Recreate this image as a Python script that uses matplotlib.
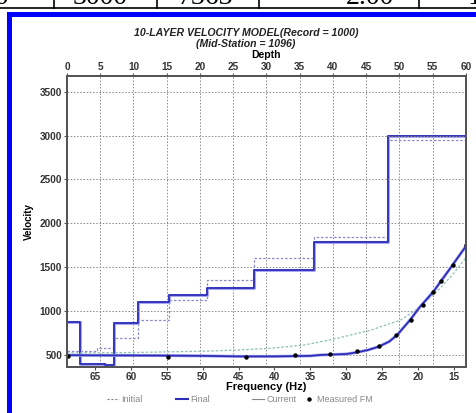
import numpy as np
import matplotlib
matplotlib.use('Agg')
import matplotlib.pyplot as plt
from matplotlib.patches import Rectangle
from matplotlib.lines import Line2D

# velocity profiles vs depth (layer boundaries + layer velocities)
depth_edges = [0, 2, 5.7, 7.1, 10.7, 15.4, 21.1, 28.1, 37.1, 48.2, 60]
final_vel = [869, 394, 385, 865, 1098, 1184, 1264, 1466, 1782, 3000]
current_vel = [869, 394, 385, 865, 1098, 1184, 1264, 1466, 1782, 3000]
init_edges = [0, 4.5, 7.1, 10.7, 15.4, 21.1, 28.1, 37.1, 48.2, 60]
init_vel = [540, 575, 694, 896, 1124, 1352, 1600, 1846, 2950]

# dispersion curves vs frequency
final_f = [68.9, 65, 60, 55, 50, 45, 40, 35, 33.6, 30, 28.5, 27, 25.5, 24, 22.9, 21.1, 19.7, 17.85, 15.5, 13.2]
final_fv = [495, 493, 492, 490, 487, 481, 481, 487, 497, 508, 527, 553, 591, 650, 725, 896, 1048, 1219, 1486, 1751]
init_f = [68.9, 60, 50, 45.2, 40.6, 35.9, 31.3, 26.6, 23.8, 22.45, 19.7, 17.0, 15.0, 13.2]
init_fv = [520, 525, 540, 553, 573, 610, 686, 780, 857, 894, 1045, 1250, 1430, 1620]
meas_f = [68.7, 54.8, 43.9, 37.1, 32.2, 28.5, 25.4, 23.0, 21.0, 19.35, 17.95, 16.85, 15.1, 13.3]
meas_v = [485, 477, 477, 497, 505, 538, 600, 724, 898, 1065, 1210, 1340, 1528, 1755]

depth_ticks = list(range(0, 61, 5))
freq_ticks = list(range(65, 14, -5))
vel_ticks = list(range(500, 3501, 500))

W, H = 477, 413
plt.rcParams['font.family'] = ['Liberation Sans', 'DejaVu Sans']

fig = plt.figure(figsize=(W / 100, H / 100), dpi=100)

# bits of the document around the chart
fig.add_artist(Line2D([0, 1], [1 - 7.5 / H] * 2, color='black', lw=1.2))
for xv in [54, 157, 259, 419]:
    fig.add_artist(Line2D([xv / W] * 2, [1, 1 - 7.5 / H], color='black', lw=1.2))
for xv, s in [(2, '0'), (100, '3000'), (205, '7363'), (370, '2.00'), (475, '1')]:
    fig.text(xv / W, 1 - 4.5 / H, s, ha='center', va='baseline', fontsize=20,
             family='Liberation Serif')
fig.add_artist(Rectangle((9.5 / W, -0.1), 1.2, 1.1 - 13.5 / H, transform=fig.transFigure,
                         fill=False, edgecolor='#0000ff', lw=3.6))

ax = fig.add_axes([67 / W, 46 / H, 399 / W, 291 / H])
ax2 = ax.twiny()

# profile on the depth axis
ax2.step(init_edges, init_vel + [init_vel[-1]], where='post', color='#8a8ac8',
         lw=0.9, ls=(0, (2, 1.5)))
ax2.step(depth_edges, current_vel + [current_vel[-1]], where='post', color='#a8a8f0', lw=2.2)
ax2.step(depth_edges, final_vel + [final_vel[-1]], where='post', color='#2e2eb8', lw=1.3)
ax2.set_xlim(0, 60)
ax2.set_xticks(depth_ticks)
ax2.grid(axis='x', color='#888888', ls=(0, (1.5, 1.8)), lw=0.7)
ax2.set_xlabel('Depth', fontsize=7.5, fontweight='bold', labelpad=2.5)

# dispersion on the frequency axis
ax.set_zorder(ax2.get_zorder() + 1)
ax.patch.set_visible(False)
ax.plot(init_f, init_fv, color='#8cc0b0', lw=0.9, ls=(0, (2, 1.5)))
ax.plot(final_f, final_fv, color='#a8a8f0', lw=2.2)
ax.plot(final_f, final_fv, color='#2e2eb8', lw=1.3)
ax.plot(meas_f, meas_v, 'o', color='black', ms=2.2)
ax.set_xlim(68.9, 13.3)
ax.set_ylim(360, 3680)
ax.set_xticks(freq_ticks)
ax.set_yticks(vel_ticks)
ax.grid(axis='y', color='#888888', ls=(0, (1.5, 1.8)), lw=0.7)
ax.set_xlabel('Frequency (Hz)', fontsize=8, fontweight='bold', labelpad=0)
ax.set_ylabel('Velocity', fontsize=7, fontweight='bold', labelpad=4)

for a in (ax, ax2):
    a.tick_params(labelsize=7.2, length=2, width=0.8, pad=1.5, color='#555555')
    for lab in a.get_xticklabels() + a.get_yticklabels():
        lab.set_fontweight('bold')
        lab.set_color('#333333')
    for sp in a.spines.values():
        sp.set_color('#555555')
        sp.set_linewidth(1.4)
ax2.tick_params(pad=1)

fig.text(246 / W, 1 - 33 / H, '10-LAYER VELOCITY MODEL(Record = 1000)', ha='center',
         va='center', fontsize=7.6, fontweight='bold', style='italic', color='#222222')
fig.text(246 / W, 1 - 44 / H, '(Mid-Station = 1096)', ha='center', va='center',
         fontsize=7.6, fontweight='bold', style='italic', color='#222222')

# legend row below the chart
entries = [
    (107, Line2D([], [], color='#888888', lw=0.8, ls=(0, (2, 1.5))), 'Initial'),
    (176, Line2D([], [], color='#2e2eb8', lw=1.5), 'Final'),
    (252, Line2D([], [], color='#888888', lw=0.8), 'Current'),
    (303, Line2D([], [], color='black', marker='o', ms=2.2, ls='none'), 'Measured FM'),
]
for xv, h, lab in entries:
    fig.legend([h], [lab], loc='center left', bbox_to_anchor=(xv / W, 1 - 400 / H),
               frameon=False, fontsize=6.5, handlelength=1.3, handletextpad=0.3,
               borderpad=0, borderaxespad=0, labelcolor='#888888')

fig.savefig('out.png', dpi=100)
